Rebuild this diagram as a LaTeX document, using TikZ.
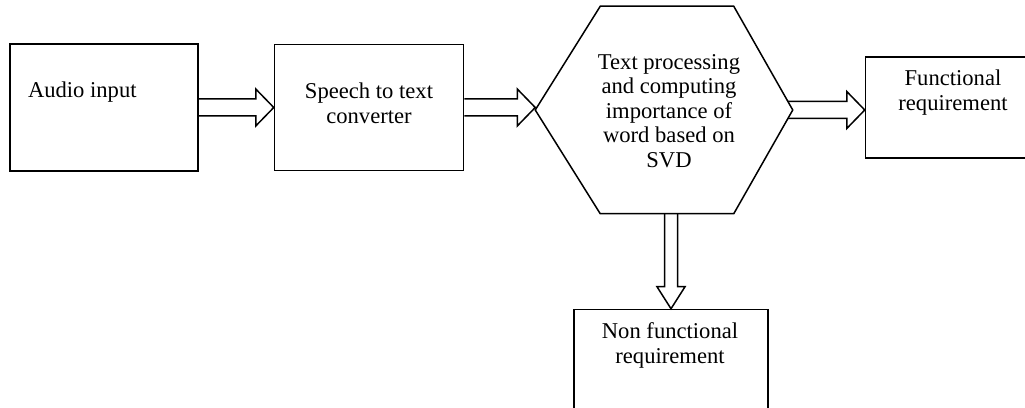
\documentclass[tikz,border=0pt]{standalone}
\usepackage{fontspec}
\setmainfont{Liberation Serif}
\usetikzlibrary{positioning,calc}

\newcommand{\harrow}[2]{\draw[blockarrow] let \p1=(#1), \p2=(#2) in (\x1,\y1+8.5pt) -- (\x2-18pt,\y1+8.5pt) -- (\x2-18pt,\y1+18.5pt) -- (\x2,\y1) -- (\x2-18pt,\y1-18.5pt) -- (\x2-18pt,\y1-8.5pt) -- (\x1,\y1-8.5pt);}
\newcommand{\varrow}[2]{\draw[blockarrow] let \p1=(#1), \p2=(#2) in (\x1-6.5pt,\y1) -- (\x1-6.5pt,\y2+22pt) -- (\x1-14pt,\y2+22pt) -- (\x1,\y2) -- (\x1+14pt,\y2+22pt) -- (\x1+6.5pt,\y2+22pt) -- (\x1+6.5pt,\y1);}

\begin{document}
\begin{tikzpicture}[x=1pt,y=1pt,line width=1.5pt,line join=miter]
\tikzstyle{box} = [draw=black,rectangle,inner sep=0pt]
\tikzstyle{txt} = [inner sep=0pt,align=center,font=\fontsize{22.6}{24.5}\selectfont]
\tikzset{blockarrow/.style={draw=black,line width=1.5pt}}
    \useasboundingbox (0,0) rectangle (1025,407);
    \node[box,minimum width=188pt,minimum height=127pt] (audio) at (104,299.5) {};
    \node[box,minimum width=189pt,minimum height=126pt] (speech) [right=75pt of audio] {};
    \node[inner sep=0pt,minimum width=256pt,minimum height=206pt] (hex) [right=71pt of speech,yshift=-2.5pt] {};
    \node[box,minimum width=163pt,minimum height=101pt] (func) [right=72pt of hex,yshift=2.5pt] {};
    \node[box,minimum width=194pt,minimum height=112pt] (nonf) [below=95pt of hex,xshift=7pt] {};

    \draw (hex.west) -- ([xshift=65pt]hex.north west) -- ([xshift=-59pt]hex.north east) -- (hex.east) -- ([xshift=-59pt]hex.south east) -- ([xshift=65pt]hex.south west) -- cycle;

    \node[txt,anchor=west] (audiotxt) at ([xshift=18pt,yshift=15.5pt]audio.west) {Audio input};
    \node[txt] (speechtxt) at ([yshift=4pt]speech.center) {Speech to text\\converter};
    \node[txt] (hextxt) at ([xshift=5pt,yshift=-1pt]hex.center) {Text processing\\and computing\\importance of\\word based on\\SVD};
    \node[txt] (functxt) at ([xshift=6pt,yshift=15pt]func.center) {Functional\\requirement};
    \node[txt] (nonftxt) at ([xshift=-1pt,yshift=-36.5pt]nonf.north) {Non functional\\requirement};

    \harrow{audio.east}{speech.west}
    \harrow{speech.east}{hex.west}
    \harrow{[xshift=-5pt]hex.east}{func.west}
    \varrow{hex.south -| nonf.north}{nonf.north}
\end{tikzpicture}
\end{document}
